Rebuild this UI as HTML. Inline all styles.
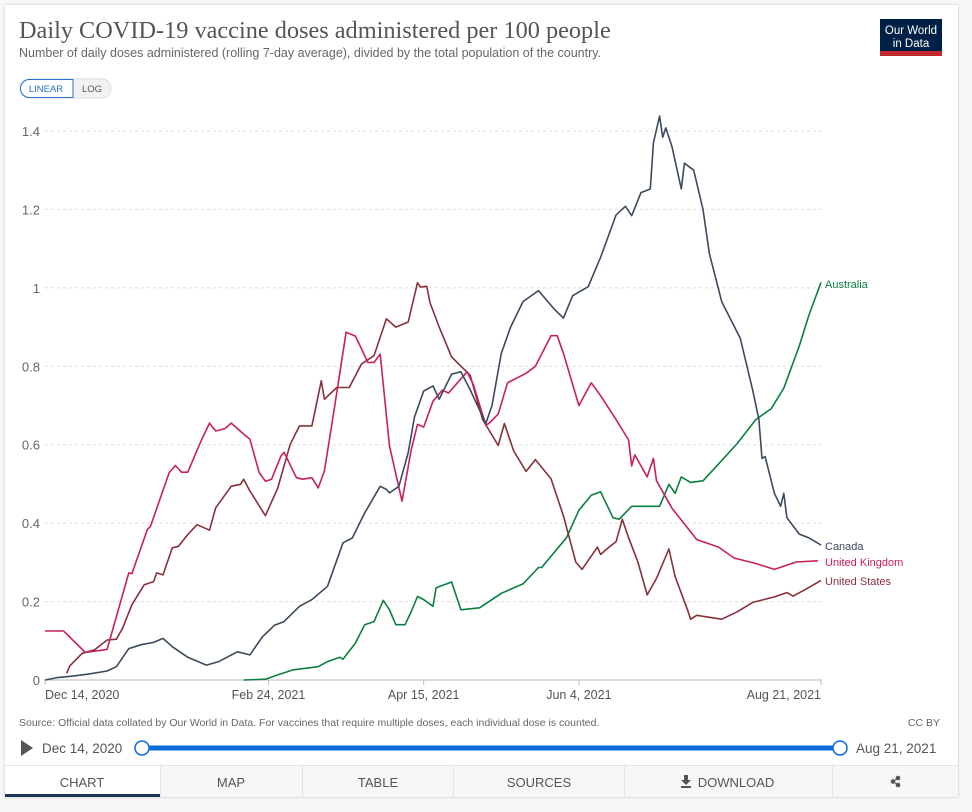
<!DOCTYPE html>
<html><head><meta charset="utf-8">
<style>
body{margin:0;background:#f7f7f7;font-family:"Liberation Sans",sans-serif;}
#card{position:absolute;left:5px;top:5px;width:953px;height:792px;background:#fff;box-shadow:0 0 2px rgba(0,0,0,.25);}
svg{position:absolute;left:0;top:0;}
</style></head><body>
<div id="card"></div>
<svg id="chart" width="972" height="812">
<text x="19" y="38" font-family="Liberation Serif,serif" font-size="24.3" fill="#555">Daily COVID-19 vaccine doses administered per 100 people</text>
<text x="19" y="57" font-size="12.5" fill="#666">Number of daily doses administered (rolling 7-day average), divided by the total population of the country.</text>
<g><rect x="880" y="19" width="62" height="37" fill="#002147"/><rect x="880" y="51" width="62" height="5" fill="#c1272d"/><text x="911" y="34" font-size="11.5" fill="#fff" text-anchor="middle">Our World</text><text x="911" y="47" font-size="11.5" fill="#fff" text-anchor="middle">in Data</text></g>
<g><rect x="20" y="79" width="91" height="19" rx="9.5" fill="#f2f2f2" stroke="#ddd"/><path d="M29.5,79.5 H73 V97.5 H29.5 A9,9 0 0 1 29.5,79.5 Z" fill="#fff" stroke="#2a6fd3"/><text x="46" y="92" font-size="9.5" fill="#2a6fd3" text-anchor="middle">LINEAR</text></g>
<text x="92" y="92" font-size="9.5" fill="#555" text-anchor="middle">LOG</text>
<g id="grid"></g><g id="lines"></g>
<text x="19" y="726" font-size="10.5" fill="#666">Source: Official data collated by Our World in Data. For vaccines that require multiple doses, each individual dose is counted.</text>
<text x="940" y="726" font-size="10.5" fill="#666" text-anchor="end">CC BY</text>
<path d="M21,740 L33,748 L21,756 Z" fill="#555"/>
<text x="42" y="753" font-size="13.5" fill="#555">Dec 14, 2020</text>
<rect x="142" y="745.5" width="698" height="5" fill="#0a6bd9"/>
<circle cx="142" cy="748" r="7" fill="#fff" stroke="#0a6bd9" stroke-width="1.5"/>
<circle cx="840" cy="748" r="7" fill="#fff" stroke="#0a6bd9" stroke-width="1.5"/>
<text x="856" y="753" font-size="13.5" fill="#555">Aug 21, 2021</text>
<g>
<rect x="5" y="765" width="953" height="32" fill="#f7f7f7"/>
<rect x="5" y="765" width="155" height="32" fill="#fff"/>
<rect x="5" y="794" width="155" height="3" fill="#1d3557"/>
<line x1="5" y1="765.5" x2="958" y2="765.5" stroke="#e4e4e4"/>
<g stroke="#e4e4e4"><line x1="160.5" y1="765" x2="160.5" y2="797"/><line x1="302.5" y1="765" x2="302.5" y2="797"/><line x1="453.5" y1="765" x2="453.5" y2="797"/><line x1="624.5" y1="765" x2="624.5" y2="797"/><line x1="832.5" y1="765" x2="832.5" y2="797"/></g>
</g>
<g font-size="13" fill="#555" text-anchor="middle">
<text x="82" y="787">CHART</text>
<text x="231" y="787">MAP</text>
<text x="378" y="787">TABLE</text>
<text x="539" y="787">SOURCES</text>
<g><path d="M684,775 h4 v5 h3 l-5,5 l-5,-5 h3 Z M681,786 h10 v2 h-10 Z" fill="#555"/><text x="736" y="787">DOWNLOAD</text></g>
<g fill="#555"><circle cx="898" cy="778" r="2.3"/><circle cx="893" cy="781.5" r="2.3"/><circle cx="898" cy="785" r="2.3"/><path d="M898,778 L893,781.5 L898,785" stroke="#555" fill="none"/></g>
</g>
</svg>
<script>
const yTicks=[0,0.2,0.4,0.6,0.8,1,1.2,1.4];
const yTickLabels=["0","0.2","0.4","0.6","0.8","1","1.2","1.4"];
const xTickDays=[0,72,122,172,250];
const xTickLabels=["Dec 14, 2020","Feb 24, 2021","Apr 15, 2021","Jun 4, 2021","Aug 21, 2021"];
const canadaDays=[0,4,9,14,20,23,27,31,35,38,41,46,52,56,62,66,70,74,77,82,86,91,96,99,103,108,110,111,114,117,119,122,125,127,131,134,137,142,144,147,150,154,159,164,167,170,175,179,184,187,189,192,195,196,198,199,200,202,205,206,209,212,214,218,224,228,230,231,232,235,237,238,239,243,246,250];
const canadaValues=[0,0.006,0.01,0.015,0.023,0.034,0.08,0.09,0.096,0.106,0.085,0.058,0.038,0.047,0.072,0.064,0.11,0.14,0.149,0.188,0.205,0.239,0.35,0.362,0.426,0.494,0.486,0.477,0.494,0.58,0.67,0.737,0.75,0.716,0.78,0.786,0.74,0.654,0.70,0.833,0.90,0.965,0.993,0.946,0.923,0.98,1.003,1.078,1.186,1.208,1.184,1.243,1.252,1.37,1.438,1.384,1.408,1.36,1.252,1.318,1.30,1.20,1.088,0.965,0.871,0.739,0.664,0.565,0.57,0.476,0.443,0.476,0.414,0.372,0.363,0.344];
const ukDays=[0,6,13,20,27,28,33,34,40,42,44,46,50,53,55,58,60,64,66,69,71,73,76,77,81,83,86,88,90,93,97,100,102,104,106,108,111,115,118,120,122,125,128,130,136,138,142,143,146,149,155,158,163,165,167,172,176,179,184,188,189,190,194,196,197,202,210,217,222,229,235,242,249];
const ukValues=[0.125,0.125,0.07,0.078,0.273,0.271,0.384,0.392,0.529,0.547,0.53,0.53,0.605,0.655,0.635,0.641,0.655,0.627,0.614,0.529,0.507,0.512,0.571,0.581,0.516,0.512,0.516,0.49,0.533,0.682,0.887,0.877,0.844,0.81,0.81,0.831,0.597,0.456,0.588,0.652,0.645,0.711,0.739,0.732,0.786,0.753,0.65,0.654,0.678,0.758,0.782,0.80,0.878,0.878,0.833,0.70,0.758,0.725,0.664,0.612,0.546,0.574,0.518,0.565,0.508,0.438,0.358,0.339,0.311,0.297,0.282,0.301,0.304];
const usDays=[7,8,12,16,20,23,25,28,32,35,36,38,41,43,46,49,53,55,60,63,64,66,71,75,79,82,86,89,90,94,98,102,106,110,113,117,120,121,123,124,127,131,137,141,146,148,151,155,158,163,167,171,173,178,179,181,184,186,188,191,194,197,201,203,207,208,210,214,218,223,228,235,239,241,245,250];
const usValues=[0.017,0.036,0.068,0.077,0.102,0.104,0.132,0.192,0.243,0.251,0.273,0.268,0.337,0.341,0.371,0.396,0.382,0.439,0.494,0.499,0.512,0.482,0.419,0.49,0.601,0.648,0.648,0.763,0.716,0.746,0.746,0.806,0.827,0.921,0.9,0.913,1.013,1.002,1.004,0.963,0.9,0.824,0.777,0.664,0.598,0.654,0.584,0.532,0.562,0.513,0.419,0.301,0.282,0.339,0.32,0.334,0.353,0.41,0.363,0.301,0.217,0.259,0.334,0.264,0.179,0.155,0.165,0.16,0.155,0.174,0.198,0.212,0.223,0.214,0.231,0.254];
const ausDays=[64,71,75,80,88,91,95,96,100,103,106,109,111,113,116,118,120,122,125,126,131,134,140,147,154,159,160,168,172,176,179,183,185,189,198,201,203,205,208,212,217,223,229,234,238,243,246,250];
const ausValues=[0,0.002,0.013,0.026,0.034,0.047,0.058,0.053,0.094,0.141,0.149,0.203,0.179,0.141,0.141,0.175,0.213,0.205,0.188,0.235,0.25,0.179,0.184,0.221,0.245,0.287,0.287,0.363,0.433,0.471,0.48,0.414,0.41,0.443,0.443,0.499,0.476,0.518,0.504,0.508,0.551,0.603,0.664,0.692,0.744,0.852,0.928,1.014];
const X0=45,X1=821,Y0=680,Y1=131;
const xS=d=>X0+d*(X1-X0)/250;
const yS=v=>Y0-v*(Y0-Y1)/1.4;
const NS="http://www.w3.org/2000/svg";
const grid=document.getElementById('grid'),lines=document.getElementById('lines');
function mk(t,a,p){const e=document.createElementNS(NS,t);for(const k in a)e.setAttribute(k,a[k]);p.appendChild(e);return e;}
yTicks.forEach((v,i)=>{
 const l=mk('line',{x1:X0,x2:822,y1:yS(v),y2:yS(v),stroke:v===0?'#bbb':'#ddd','stroke-dasharray':v===0?'':'3,3'},grid);
 
 
 const t=mk('text',{x:40,y:yS(v)+5,'font-size':13,fill:'#666','text-anchor':'end'},grid);
 t.textContent=yTickLabels[i];
 
 
});
xTickDays.forEach((d,i)=>{
 const l=mk('line',{x1:xS(d),x2:xS(d),y1:680,y2:685,stroke:'#bbb'},grid);
 
 
 const anchor=i===0?'start':(i===xTickDays.length-1?'end':'middle');
 const t=mk('text',{x:xS(d),y:699,'font-size':12.5,fill:'#555','text-anchor':anchor},grid);
 t.textContent=xTickLabels[i];
 
 
});
function series(days,vals,color,name,label,ly){
 const d=days.map((dd,i)=>(i?'L':'M')+xS(dd).toFixed(1)+','+yS(vals[i]).toFixed(1)).join('');
 const p=mk('path',{d:d,fill:'none',stroke:color,'stroke-width':1.6,'stroke-linejoin':'round'},lines);
 
 
 const t=mk('text',{x:825,y:ly,'font-size':11,fill:color},lines);
 t.textContent=label;
 
 
}
series(ausDays,ausValues,'#0b7f3f','australia','Australia',288);
series(usDays,usValues,'#883039','united-states','United States',585);
series(ukDays,ukValues,'#c8205f','united-kingdom','United Kingdom',566);
series(canadaDays,canadaValues,'#3c4a5e','canada','Canada',550);
</script>
</body></html>
